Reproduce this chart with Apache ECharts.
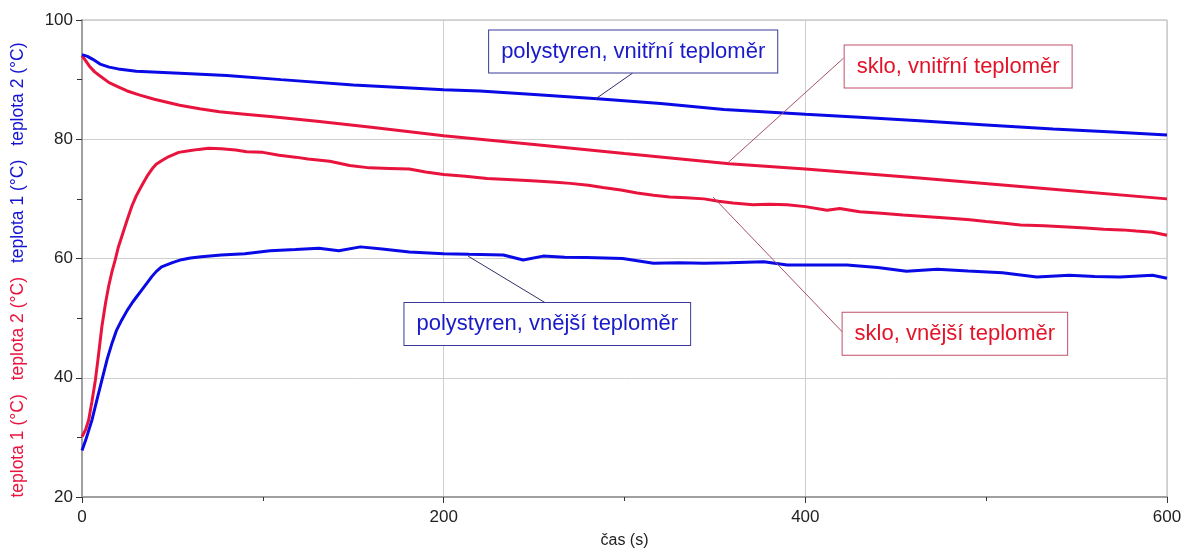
<!DOCTYPE html>
<html>
<head>
<meta charset="utf-8">
<script src="https://cdn.jsdelivr.net/npm/echarts@6/dist/echarts.min.js"></script>
<style>
html,body{margin:0;padding:0;background:#fff;overflow:hidden;}
#c{width:1184px;height:549px;}
</style>
</head>
<body>
<div id="c"></div>
<script>
// ---- data (time in s, temperature in °C) ----
var xTicks = [0, 200, 400, 600];
var yTicks = [20, 40, 60, 80, 100];

var tPolyIn = [0,3,6,10,15,20,30,45,60,80,110,150,200,220,250,285,320,355,400,430,463,500,537,570,600];
var polyIn  = [94.2,93.9,93.4,92.6,92.1,91.8,91.4,91.2,91.0,90.7,90.0,89.1,88.3,88.1,87.5,86.8,86.0,85.0,84.2,83.7,83.1,82.4,81.7,81.2,80.7];

var tGlassIn = [0,2,4,7,10,15,20,25,32,40,54,65,76,90,104,130,160,200,250,300,358,400,463,537,600];
var glassIn  = [94.0,93.2,92.3,91.3,90.6,89.5,88.8,88.1,87.4,86.7,85.7,85.1,84.6,84.2,83.8,83.0,82.0,80.6,79.1,77.6,75.9,75.0,73.5,71.6,70.0];

var tGlassOut = [0,2,3.7,5.5,7.4,9,11,13,14.7,16.5,18.4,20,22,25,27.6,30,33,36,38.7,41,44,48,53.5,60,64.5,70,77,85,91,100,109,118,125,137,148,159,170,181,190,200,212,224,238,251,262,270,280,288,298,307,316,325,334,344,352,360,371,380,390,400,412,419,430,442,454,468,482,491,500,510,519,532,545,555,565,575,583,592,600];
var glassOut  = [30.1,31.3,32.9,36.0,39.6,43.5,48.6,52.5,55.3,57.7,59.8,61.8,63.7,66.5,68.8,70.5,72.2,73.8,75.0,75.8,76.4,77.1,77.8,78.1,78.3,78.5,78.4,78.2,77.9,77.8,77.3,77.0,76.7,76.3,75.6,75.2,75.1,75.0,74.5,74.1,73.8,73.4,73.2,73.0,72.8,72.6,72.3,71.9,71.5,71.0,70.6,70.3,70.2,70.0,69.6,69.3,69.0,69.1,69.0,68.7,68.1,68.4,67.85,67.6,67.3,67.0,66.7,66.5,66.2,65.9,65.6,65.5,65.3,65.1,64.9,64.8,64.6,64.4,63.9];

var tPolyOut = [0,2,5.5,8,11,14,16.6,19,22,25,27.6,30,33,36,38.7,41,44,50,55,60,66,77,90,104,118,131,142,154,166,181,200,214,233,244,255,267,279,299,316,330,344,358,377,390,405,423,440,456,473,490,509,528,546,560,574,592,600];
var polyOut  = [27.8,29.5,32.9,36.0,39.6,43.2,45.8,47.9,49.7,51.3,52.5,53.5,54.7,55.9,57.0,57.8,58.6,59.3,59.8,60.1,60.3,60.6,60.8,61.3,61.5,61.7,61.3,61.95,61.6,61.1,60.8,60.7,60.6,59.75,60.4,60.2,60.15,60.0,59.2,59.3,59.2,59.3,59.45,58.9,58.9,58.9,58.5,57.85,58.2,57.9,57.6,56.9,57.2,57.0,56.9,57.2,56.7];

// annotation labels: text, anchor on curve, box centre, connector end at box (data coords)
var labels = ['polystyren, vnitřní teploměr','sklo, vnitřní teploměr','polystyren, vnější teploměr','sklo, vnější teploměr'];
var labelAnchor = [[283.7,86.7],[357.3,76.1],[213.5,60.4],[349,70.3]];
var labelBox    = [[304.8,94.7],[484.5,92.2],[257.3,49.0],[482.7,47.4]];
var labelJoin   = [[304.5,91.1],[421.1,93.6],[256.6,52.5],[420.4,47.7]];

var RED = '#e8143e', BLUE = '#0a0ae6';
var labelColor = [BLUE, RED, BLUE, RED];

function pairs(t, v){ return t.map(function(x,i){ return [x, v[i]]; }); }

var chart = echarts.init(document.getElementById('c'), null, {renderer:'canvas'});
var FONT = 'Arial, "Liberation Sans", sans-serif';

function lineSeries(name, t, v, color){
  return {name:name, type:'line', data:pairs(t,v), showSymbol:false, symbol:'none',
    lineStyle:{color:color, width:3}, itemStyle:{color:color}, smooth:false};
}

chart.setOption({
  animation:false,
  backgroundColor:'#fff',
  grid:{left:82, width:1085, top:20, height:477, containLabel:false, outerBoundsMode:'none',
    show:true, borderColor:'#b0b0b0', borderWidth:1},
  xAxis:{type:'value', min:0, max:600, interval:200,
    name:'čas (s)', nameLocation:'middle', nameGap:36,
    nameTextStyle:{color:'#222', fontSize:16, fontFamily:FONT},
    axisLine:{show:true, onZero:false, lineStyle:{color:'#a0a0a0', width:2}},
    axisTick:{show:true, length:6, lineStyle:{color:'#333'}},
    minorTick:{show:true, splitNumber:2, length:4, lineStyle:{color:'#333'}},
    axisLabel:{color:'#222', fontSize:17, fontFamily:FONT, margin:12,
      formatter:function(v){ return xTicks.indexOf(v)>=0 ? String(v) : ''; }},
    splitLine:{show:true, lineStyle:{color:'#cfcfcf', width:1}}
  },
  yAxis:{type:'value', min:20, max:100, interval:20,
    axisLine:{show:true, onZero:false, lineStyle:{color:'#a0a0a0', width:2}},
    axisTick:{show:true, length:6, lineStyle:{color:'#333'}},
    minorTick:{show:true, splitNumber:2, length:5, lineStyle:{color:'#333'}},
    axisLabel:{color:'#222', fontSize:17, fontFamily:FONT, margin:9,
      formatter:function(v){ return yTicks.indexOf(v)>=0 ? String(v) : ''; }},
    splitLine:{show:true, lineStyle:{color:'#cfcfcf', width:1}}
  },
  series:[
    lineSeries('sklo, vnější', tGlassOut, glassOut, RED),
    lineSeries('polystyren, vnější', tPolyOut, polyOut, BLUE),
    lineSeries('sklo, vnitřní', tGlassIn, glassIn, RED),
    lineSeries('polystyren, vnitřní', tPolyIn, polyIn, BLUE)
  ]
});

var gfx = [];
// y-axis title (multi-coloured, rotated)
gfx.push({type:'text', x:18, y:270, rotation:Math.PI/2,
  style:{text:'{r|teplota 1 (°C)}{r|teplota 2 (°C)}{b|teplota 1 (°C)}{b|teplota 2 (°C)}',
    align:'center', verticalAlign:'middle',
    rich:{r:{fill:RED, fontSize:17.5, fontFamily:FONT, padding:[0,7]},
          b:{fill:'#1414d2', fontSize:17.5, fontFamily:FONT, padding:[0,7]}}},
  z:10});

for (var i=0;i<labels.length;i++){
  var a = chart.convertToPixel({gridIndex:0}, labelAnchor[i]);
  var j = chart.convertToPixel({gridIndex:0}, labelJoin[i]);
  var b = chart.convertToPixel({gridIndex:0}, labelBox[i]);
  var isBlue = labelColor[i]===BLUE;
  gfx.push({type:'line', shape:{x1:a[0], y1:a[1], x2:j[0], y2:j[1]},
    style:{stroke:isBlue ? '#30306a' : '#a8506a', lineWidth:1}, z:20});
  gfx.push({type:'text', x:b[0], y:b[1], z:30,
    style:{text:labels[i], fill:isBlue ? '#1a1ac8' : '#e3142a',
      fontSize:22, fontFamily:FONT, align:'center', verticalAlign:'middle',
      backgroundColor:'#fff', borderColor:isBlue ? '#3a3a9a' : '#c0506a', borderWidth:1,
      padding:[9,12], lineHeight:24}});
}
chart.setOption({graphic:gfx});
</script>
</body>
</html>
